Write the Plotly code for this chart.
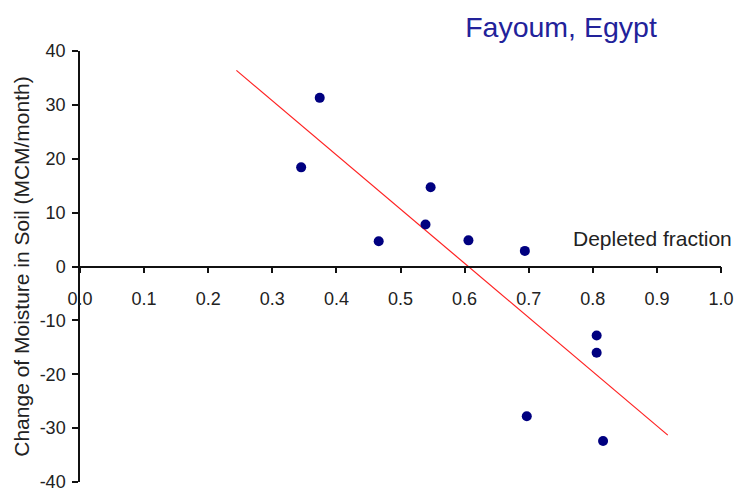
import plotly.graph_objects as go

# Data
depleted_fraction = [0.345, 0.374, 0.466, 0.539, 0.547, 0.606, 0.694, 0.806, 0.806, 0.697, 0.816]
moisture_change = [18.4, 31.3, 4.7, 7.8, 14.7, 4.85, 2.9, -12.8, -16.0, -27.8, -32.4]

trend_x = [0.244, 0.917]
trend_y = [36.4, -31.3]

x_ticks = [0.0, 0.1, 0.2, 0.3, 0.4, 0.5, 0.6, 0.7, 0.8, 0.9, 1.0]
x_tick_labels = ["0.0", "0.1", "0.2", "0.3", "0.4", "0.5", "0.6", "0.7", "0.8", "0.9", "1.0"]
y_ticks = [-40, -30, -20, -10, 0, 10, 20, 30, 40]
y_tick_labels = ["-40", "-30", "-20", "-10", "0", "10", "20", "30", "40"]

FONT = "Liberation Sans, Arial, sans-serif"
W, H = 737, 493
L, R, T, B = 80, 16, 51, 11

fig = go.Figure()
fig.add_trace(go.Scatter(
    x=trend_x, y=trend_y, mode="lines",
    line=dict(color="#ff2020", width=1.2), showlegend=False, hoverinfo="skip"))
fig.add_trace(go.Scatter(
    x=depleted_fraction, y=moisture_change, mode="markers",
    marker=dict(color="#000080", size=10, symbol="circle"), showlegend=False))

fig.update_layout(
    width=W, height=H,
    margin=dict(l=L, r=R, t=T, b=B, autoexpand=False),
    paper_bgcolor="white", plot_bgcolor="white",
    font=dict(family=FONT, color="#222222"),
    title=dict(text="Fayoum, Egypt", font=dict(family=FONT, size=28.5, color="#22229a"),
               xref="container", yref="container",
               x=561 / W, y=1 - 27.5 / H, xanchor="center", yanchor="middle"),
    xaxis=dict(range=[0, 1], anchor="free", position=0.5,
               tickmode="array", tickvals=x_ticks, ticktext=x_tick_labels,
               showline=True, linecolor="#111111", linewidth=1.5,
               ticks="outside", ticklen=6, tickwidth=1.5, tickcolor="#111111",
               ticklabelstandoff=10,
               showgrid=False, zeroline=False,
               tickfont=dict(family=FONT, size=18, color="#222222")),
    yaxis=dict(range=[-40, 40], anchor="x",
               tickmode="array", tickvals=y_ticks, ticktext=y_tick_labels,
               showline=True, linecolor="#111111", linewidth=1.5,
               ticks="outside", ticklen=6, tickwidth=1.5, tickcolor="#111111",
               ticklabelstandoff=3, ticklabeloverflow="allow",
               showgrid=False, zeroline=False,
               tickfont=dict(family=FONT, size=18, color="#222222"),
               title=dict(text="Change of Moisture in Soil (MCM/month)",
                          font=dict(family=FONT, size=21, color="#222222"),
                          standoff=4)),
    annotations=[dict(text="Depleted fraction", xref="paper", yref="y",
                      x=(652.5 - L) / (W - L - R), y=5.2,
                      xanchor="center", yanchor="middle", showarrow=False,
                      font=dict(family=FONT, size=21, color="#222222"))],
)

fig.write_html("out.html")
